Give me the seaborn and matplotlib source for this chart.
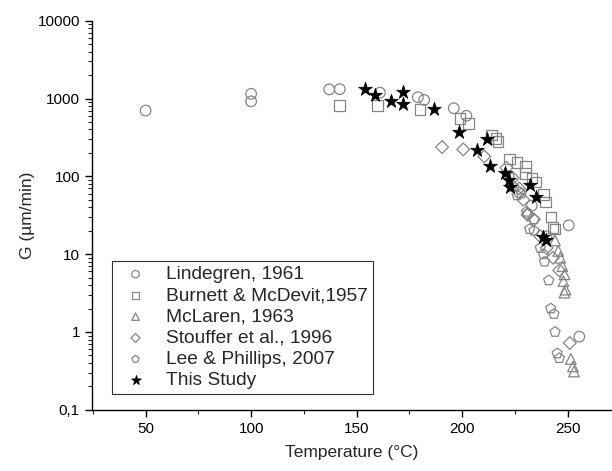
import numpy as np
import pandas as pd
import seaborn as sns
import matplotlib
matplotlib.use('Agg')
import matplotlib.pyplot as plt
from matplotlib.ticker import LogLocator, NullFormatter

# growth rate G (um/min) vs temperature (C)
lindegren_t = [50, 100, 100, 137, 142, 161, 179, 182, 196, 202, 222, 227, 233, 240, 250.5, 255.5]
lindegren_g = [700, 920, 1150, 1310, 1320, 1190, 1040, 960, 750, 600, 100, 62, 42, 17, 23.5, 0.87]

burnett_t = [142, 160, 180, 199, 203, 214, 216, 217, 222.5, 226, 230, 230, 233, 235, 238.5, 239.5, 242, 243, 244]
burnett_g = [810, 810, 720, 550, 480, 340, 305, 280, 168, 150, 133, 108, 95, 85, 58, 47, 30, 22, 21]

mclaren_t = [244, 245.5, 246.5, 247.5, 248.5, 248, 249, 248.5, 251.5, 252.5, 253]
mclaren_g = [15, 11, 9, 7, 5.5, 4.5, 3.5, 3.2, 0.45, 0.36, 0.31]

stouffer_t = [190.5, 200.5, 210.5, 221, 224, 227, 229, 231, 234, 237, 240, 243, 246, 251]
stouffer_g = [238, 222, 180, 129, 95, 70, 50, 32, 28, 17, 12, 9, 6.2, 0.72]

lee_t = [224.5, 226, 228, 230.5, 231, 232, 234, 234, 237, 238.5, 239, 241, 242, 243.5, 244, 245, 246]
lee_g = [73, 57, 60, 35, 33, 21, 28, 20, 12, 10, 8, 4.6, 2.0, 1.7, 1.0, 0.53, 0.46]

study_t = [154, 158.5, 166.5, 172, 172, 186.5, 198.5, 207, 212, 213, 220.5, 222, 222.5, 232, 235, 238.5, 239.5]
study_g = [1330, 1120, 940, 1220, 850, 740, 375, 215, 305, 134, 110, 89, 73, 78, 54, 16.5, 15]

series = [
    ('Lindegren, 1961', lindegren_t, lindegren_g, 'o'),
    ('Burnett & McDevit,1957', burnett_t, burnett_g, 's'),
    ('McLaren, 1963', mclaren_t, mclaren_g, '^'),
    ('Stouffer et al., 1996', stouffer_t, stouffer_g, 'D'),
    ('Lee & Phillips, 2007', lee_t, lee_g, 'p'),
    ('This Study', study_t, study_g, '*'),
]

sns.set_style('ticks')
plt.rcParams['font.family'] = ['Liberation Sans', 'DejaVu Sans']

fig = plt.figure(figsize=(6.12, 4.71), dpi=100)
ax = fig.add_axes([0.150, 0.130, 0.850, 0.826])

for name, t, g, mk in series:
    df = pd.DataFrame({'Temperature': t, 'G': g})
    if mk == '*':
        sns.scatterplot(data=df, x='Temperature', y='G', marker='*', s=110,
                        color='black', edgecolor='black', linewidth=0.5,
                        label=name, ax=ax, zorder=3)
    else:
        size = 42 if mk == 'D' else 58
        sns.scatterplot(data=df, x='Temperature', y='G', marker=mk, s=size,
                        facecolors='none', edgecolor='#858585', linewidth=0.9,
                        label=name, ax=ax, zorder=2)

ax.set_yscale('log')
ax.set_ylim(0.1, 10000)
ax.set_xlim(24.5, 271)
ax.set_yticks([0.1, 1, 10, 100, 1000, 10000])
ax.set_yticklabels(['0,1', '1', '10', '100', '1000', '10000'])
ax.yaxis.set_minor_locator(LogLocator(base=10, subs=np.arange(2, 10)))
ax.yaxis.set_minor_formatter(NullFormatter())
ax.set_xticks([50, 100, 150, 200, 250])
ax.set_xticks([25, 75, 125, 175, 225], minor=True)

sns.despine(ax=ax)
for sp in ['left', 'bottom']:
    ax.spines[sp].set_linewidth(1.0)
    ax.spines[sp].set_color('black')
ax.tick_params(which='major', direction='out', length=5, width=1, labelsize=11, colors='black')
ax.tick_params(which='minor', direction='out', length=3, width=0.8)

ax.set_xlabel('Temperature (°C)', fontsize=12.5, labelpad=7)
ax.set_ylabel('G (µm/min)', fontsize=12.5, labelpad=2)

leg = ax.legend(loc='lower left', bbox_to_anchor=(0.038, 0.04), borderaxespad=0,
                frameon=True, fancybox=False, fontsize=13.8, markerscale=0.7,
                handletextpad=0.6, labelspacing=0.2, borderpad=0.25)
leg.get_frame().set_edgecolor('black')
leg.get_frame().set_linewidth(0.8)

plt.savefig('out.png', dpi=100)
print("done")
